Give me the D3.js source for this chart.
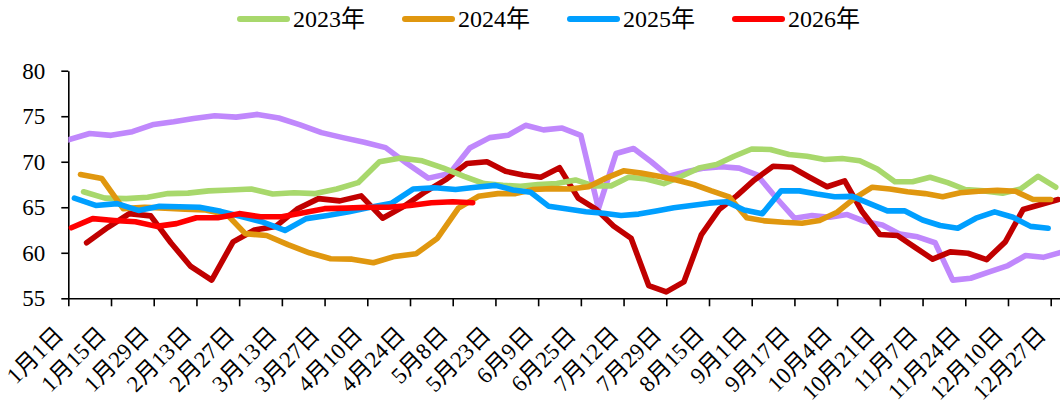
<!DOCTYPE html>
<html>
<head>
<meta charset="utf-8">
<script src="https://cdn.jsdelivr.net/npm/d3@7"></script>
<style>
body { margin: 0; background: #fff; }
svg { display: block; }
</style>
</head>
<body>
<svg id="chart" width="1060" height="412"></svg>
<script>
// tick labels on the date axis (month-day)
var tickLabels = ["1月1日", "1月15日", "1月29日", "2月13日", "2月27日", "3月13日", "3月27日", "4月10日",
    "4月24日", "5月8日", "5月23日", "6月9日", "6月25日", "7月12日", "7月29日", "8月15日", "9月1日",
    "9月17日", "10月4日", "10月21日", "11月7日", "11月24日", "12月10日", "12月27日"];

// weekly series, one value per Friday starting from startDates[k]
var seriesNames = ["2021年", "2022年", "2023年", "2024年", "2025年", "2026年"];
var startDates = ["2021-01-01", "2022-01-07", "2023-01-06", "2024-01-05", "2025-01-03", "2026-01-02"];
var colors = ["#C088FC", "#C00000", "#A8D86C", "#E0970F", "#009FFF", "#FF0000"];
var legendNames = ["2023年", "2024年", "2025年", "2026年"];

var v2021 = [72.4, 73.1, 72.9, 73.3, 74.1, 74.4, 74.75, 75.05, 74.9, 75.2,
    74.8, 74.05, 73.2, 72.65, 72.15, 71.55, 69.8, 68.2, 68.7, 71.5,
    72.65, 72.9, 74.0, 73.5, 73.7, 72.9, 64.85, 70.9, 71.45, 70.0,
    68.4, 68.9, 69.3, 69.45, 69.3, 68.55, 66.1, 63.8, 64.1, 63.9,
    64.2, 63.45, 63.05, 62.05, 61.75, 61.1, 57.0, 57.2, 57.9, 58.6,
    59.7, 59.5, 60.05];
var v2022 = [61.1, 62.8, 64.3, 64.05, 61.1, 58.5, 57.0, 61.2, 62.5, 62.9,
    64.8, 65.95, 65.7, 66.25, 63.8, 65.1, 66.7, 68.1, 69.8, 70.0,
    68.95, 68.55, 68.3, 69.35, 66.0, 64.8, 62.95, 61.6, 56.4, 55.7,
    56.8, 62.0, 64.75, 66.25, 68.0, 69.5, 69.4, 68.3, 67.25, 67.9,
    64.5, 62.0, 61.9, 60.6, 59.3, 60.1, 59.95, 59.25, 61.2, 64.75,
    65.3, 65.85];
var v2023 = [66.7, 66.0, 65.95, 66.1, 66.5, 66.55, 66.8, 66.9, 67.0, 66.45,
    66.6, 66.5, 67.0, 67.7, 70.0, 70.4, 70.1, 69.3, 68.4, 67.6,
    67.4, 67.3, 67.5, 67.6, 68.0, 67.35, 67.35, 68.3, 68.1, 67.6,
    68.4, 69.3, 69.7, 70.6, 71.4, 71.35, 70.8, 70.6, 70.25, 70.35,
    70.1, 69.2, 67.8, 67.8, 68.3, 67.7, 66.95, 66.8, 66.55, 67.0,
    68.4, 67.2];
var v2024 = [68.6, 68.15, 64.85, 65.0, 64.9, 64.8, 64.7, 64.2, 62.1, 61.9,
    60.9, 60.0, 59.35, 59.3, 58.9, 59.6, 59.9, 61.6, 64.9, 66.2,
    66.5, 66.5, 66.95, 67.05, 67.0, 67.25, 68.2, 69.0, 68.75, 68.4,
    68.0, 67.5, 66.8, 66.15, 63.85, 63.5, 63.35, 63.25, 63.55, 64.45,
    66.0, 67.2, 67.0, 66.7, 66.5, 66.15, 66.6, 66.75, 66.85, 66.75,
    65.85, 65.85];
var v2025 = [66.0, 65.2, 65.4, 64.65, 65.1, 65.05, 65.0, 64.55, 63.95, 63.35,
    62.45, 63.75, 64.1, 64.5, 65.0, 65.45, 67.0, 67.15, 66.95, 67.2,
    67.4, 66.9, 66.65, 65.1, 64.8, 64.5, 64.35, 64.1, 64.25, 64.6,
    64.95, 65.2, 65.45, 65.6, 64.7, 64.3, 66.8, 66.8, 66.45, 66.15,
    66.2, 65.4, 64.6, 64.6, 63.6, 63.0, 62.7, 63.8, 64.5, 63.9,
    62.9, 62.7];
var v2026 = [62.75, 63.75, 63.55, 63.4, 62.9, 63.2, 63.85, 63.85, 64.3, 63.95,
    63.95, 64.4, 64.85, 64.9, 65.0, 65.0, 65.2, 65.5, 65.6, 65.5];

var yTicks = [55, 60, 65, 70, 75, 80];

var svg = d3.select("#chart"),
    font = '"Liberation Serif", "Times New Roman", "Noto Sans CJK SC", serif',
    plot = {left: 68.3, top: 70.7, bottom: 298.3, lastTick: 1050.7};

svg.append("rect").attr("width", 1060).attr("height", 412).attr("fill", "#fff");

// every year is placed on the same month-day axis (2023 used as reference year)
function toRefDate(d) { return new Date(2023, d.getMonth(), d.getDate()); }

var tickDates = tickLabels.map(function(s) {
    var m = s.match(/(\d+)月(\d+)日/);
    return new Date(2023, +m[1] - 1, +m[2]);
});

// labels are evenly spaced though the day gaps are not, so the scale is piecewise
var step = (plot.lastTick - plot.left) / (tickDates.length - 1);
var xDomain = tickDates.concat([d3.timeDay.offset(tickDates[tickDates.length - 1], 17)]);
var xScale = d3.scaleTime()
    .domain(xDomain)
    .range(xDomain.map(function(d, i) { return plot.left + i * step; }));

var yScale = d3.scaleLinear().domain([55, 80]).range([plot.bottom, plot.top]);

var parseDate = d3.timeParse("%Y-%m-%d");
var series = [v2021, v2022, v2023, v2024, v2025, v2026].map(function(vals, k) {
    var start = parseDate(startDates[k]);
    return {
        name: seriesNames[k],
        color: colors[k],
        values: vals.map(function(v, i) {
            return {date: toRefDate(d3.timeDay.offset(start, 7 * i)), value: v};
        })
    };
});

svg.append("clipPath").attr("id", "plot-clip")
    .append("rect")
    .attr("x", plot.left).attr("y", 0)
    .attr("width", 1100).attr("height", 412);

// axes
var xAxis = svg.append("g")
    .attr("transform", "translate(0," + plot.bottom + ")")
    .call(d3.axisBottom(xScale)
        .tickValues(tickDates)
        .tickFormat(function(d, i) { return tickLabels[i]; })
        .tickSize(8)
        .tickSizeOuter(0))
    .attr("font-family", font)
    .attr("font-size", 23);

xAxis.selectAll(".tick text")
    .attr("y", 0)
    .attr("dy", 0)
    .attr("text-anchor", "end")
    .attr("transform", "translate(-4,38) rotate(-45)")
    .attr("fill", "#000");

var yAxis = svg.append("g")
    .attr("transform", "translate(" + plot.left + ",0)")
    .call(d3.axisLeft(yScale)
        .tickValues(yTicks)
        .tickSize(7)
        .tickPadding(16)
        .tickSizeOuter(0))
    .attr("font-family", font)
    .attr("font-size", 23);

yAxis.selectAll(".tick text").attr("fill", "#000");

svg.selectAll(".domain, .tick line")
    .attr("stroke", "#000")
    .attr("stroke-width", 1.6);

// lines
var line = d3.line()
    .x(function(d) { return xScale(d.date); })
    .y(function(d) { return yScale(d.value); });

svg.append("g")
    .attr("clip-path", "url(#plot-clip)")
    .selectAll("path")
    .data(series)
    .enter().append("path")
    .attr("d", function(d) { return line(d.values); })
    .attr("fill", "none")
    .attr("stroke", function(d) { return d.color; })
    .attr("stroke-width", 5.6)
    .attr("stroke-linejoin", "round")
    .attr("stroke-linecap", "round");

// legend (only the last four years are listed)
var legend = svg.append("g")
    .selectAll("g")
    .data(legendNames)
    .enter().append("g")
    .attr("transform", function(d, i) { return "translate(" + (237 + i * 165) + ",0)"; });

legend.append("line")
    .attr("x1", 3).attr("x2", 50)
    .attr("y1", 19).attr("y2", 19)
    .attr("stroke", function(d) { return colors[seriesNames.indexOf(d)]; })
    .attr("stroke-width", 6)
    .attr("stroke-linecap", "round");

legend.append("text")
    .attr("x", 56)
    .attr("y", 27)
    .attr("font-family", font)
    .attr("font-size", 24)
    .attr("fill", "#000")
    .text(function(d) { return d; });
</script>
</body>
</html>
